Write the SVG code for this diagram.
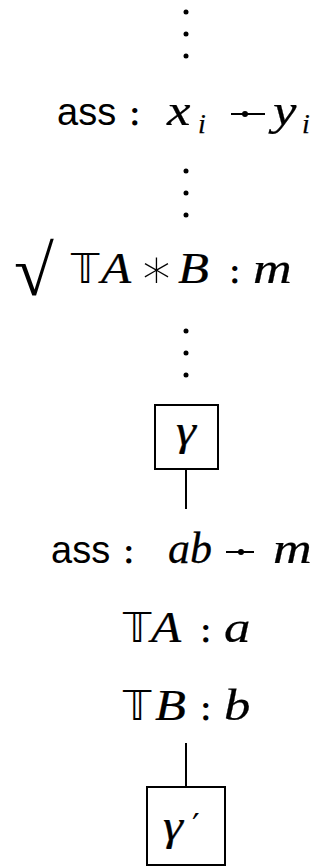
<svg xmlns="http://www.w3.org/2000/svg" width="320" height="866" viewBox="0 0 320 866">
<style>
.t{font-family:"Liberation Serif","DejaVu Serif",serif;font-size:44px;fill:#000}
.i{font-style:italic;stroke:#000;stroke-width:0.25}
.s{font-family:"Liberation Sans","DejaVu Sans",sans-serif;font-size:38px}
.ds{font-family:"DejaVu Sans","DejaVu Serif",sans-serif;font-size:40px}
.c{font-family:"DejaVu Serif","Liberation Serif",serif;font-size:40px}
.sub{font-size:28px}
.ln{stroke:#000;stroke-width:2;fill:none}
.box{stroke:#000;stroke-width:2;fill:#fff}
</style>
<rect width="320" height="866" fill="#fff"/>
<g id="connectors">
<circle cx="186" cy="12" r="2.5"/><circle cx="186" cy="34" r="2.5"/><circle cx="186" cy="56" r="2.5"/>
<circle cx="186" cy="171" r="2.5"/><circle cx="186" cy="193" r="2.5"/><circle cx="186" cy="215" r="2.5"/>
<circle cx="186" cy="331" r="2.5"/><circle cx="186" cy="353" r="2.5"/><circle cx="186" cy="375" r="2.5"/>
<line class="ln" x1="186" y1="469" x2="186" y2="509"/>
<line class="ln" x1="186" y1="743" x2="186" y2="787"/>
</g>
<g id="row1">
<text class="t s" x="57" y="125">ass</text>
<text class="t c" x="128" y="125">:</text>
<text class="t i" transform="translate(167,125) scale(1.2,1)">x</text>
<text class="t i sub" x="198" y="133">i</text>
<line class="ln" x1="231" y1="114" x2="265" y2="114"/><circle cx="245" cy="114" r="3"/>
<text class="t i" transform="translate(273,125) scale(1.2,1)">y</text>
<text class="t i sub" x="302" y="133">i</text>
</g>
<g id="row2">
<text class="t" transform="translate(14,295) scale(1.65,1.62)" style="font-family:'Liberation Serif',serif;font-size:44px">√</text>
<text class="t ds" x="71" y="283">𝕋</text>
<text class="t i" transform="translate(101,283) scale(1.12,1)">A</text>
<text class="t" x="139" y="288" style="font-family:'DejaVu Sans',sans-serif;font-weight:200;font-size:56px">∗</text>
<text class="t i" transform="translate(178,283) scale(1.15,1)">B</text>
<text class="t c" x="228" y="283">:</text>
<text class="t i" transform="translate(253,283) scale(1.22,1)">m</text>
</g>
<g id="gamma">
<rect class="box" x="155" y="405" width="63" height="64"/>
<text class="t i" transform="translate(186,445) scale(1.15,1)" text-anchor="middle">γ</text>
</g>
<g id="row5">
<text class="t s" x="51" y="563">ass</text>
<text class="t c" x="122" y="563">:</text>
<text class="t i" transform="translate(168,563) scale(1.0,1)">ab</text>
<line class="ln" x1="226" y1="552" x2="254" y2="552"/><circle cx="241" cy="552" r="3"/>
<text class="t i" transform="translate(273,563) scale(1.22,1)">m</text>
</g>
<g id="row6">
<text class="t ds" x="123" y="642">𝕋</text>
<text class="t i" transform="translate(151,642) scale(1.12,1)">A</text>
<text class="t c" x="199" y="642">:</text>
<text class="t i" transform="translate(224,642) scale(1.2,1)">a</text>
</g>
<g id="row7">
<text class="t ds" x="123" y="720">𝕋</text>
<text class="t i" transform="translate(155,720) scale(1.15,1)">B</text>
<text class="t c" x="199" y="720">:</text>
<text class="t i" transform="translate(224,720) scale(1.2,1)">b</text>
</g>
<g id="gammaprime">
<rect class="box" x="147" y="787" width="78" height="78"/>
<text class="t i" transform="translate(163,840) scale(1.15,1)">γ</text>
<text class="t c" x="192" y="838" style="font-size:34px">′</text>
</g>
</svg>
